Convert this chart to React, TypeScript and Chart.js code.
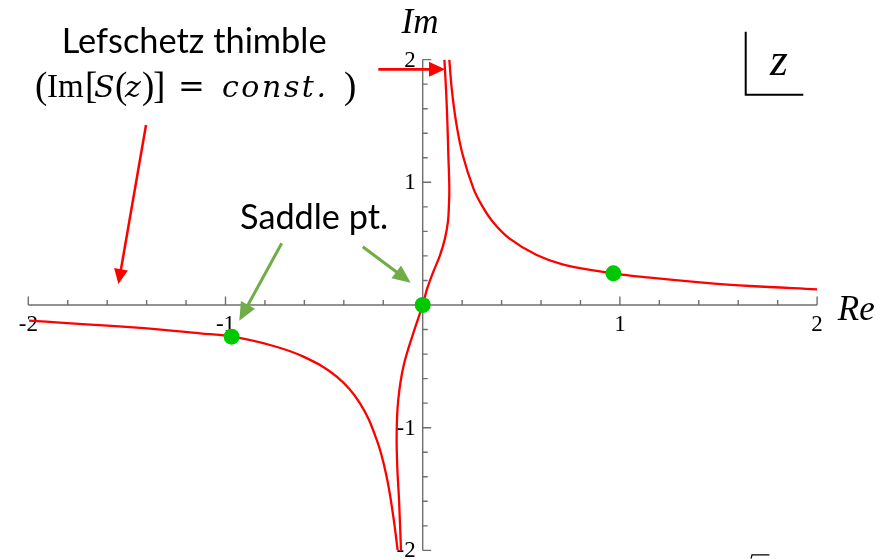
import React, { useEffect, useRef } from "react";
import { Chart, registerables } from "chart.js";

Chart.register(...registerables);

// Upper-right Lefschetz thimble (through the saddle near 0.97 + 0.26i)
const rightThimbleRe = [0.135, 0.147, 0.169, 0.203, 0.257, 0.299, 0.355, 0.439, 0.578, 0.713, 0.967, 1.153, 1.407, 1.66, 2.0];
const rightThimbleIm = [2.0, 1.766, 1.494, 1.222, 0.951, 0.815, 0.679, 0.543, 0.407, 0.33, 0.258, 0.223, 0.185, 0.155, 0.128];

// Central thimble through the saddle at the origin
const centralThimbleRe = [0.11, 0.118, 0.125, 0.13, 0.135, 0.133, 0.128, 0.113, 0.088, 0.054, 0.023, 0, -0.048, -0.098, -0.124, -0.132, -0.129, -0.12, -0.11];
const centralThimbleIm = [2.0, 1.766, 1.494, 1.222, 0.951, 0.815, 0.679, 0.543, 0.407, 0.271, 0.136, 0, -0.231, -0.503, -0.774, -1.046, -1.318, -1.589, -2.0];

// Lower-left thimble (through the saddle near -0.97 - 0.26i)
const leftThimbleRe = [-1.996, -1.468, -1.129, -0.969, -0.774, -0.605, -0.436, -0.318, -0.233, -0.183, -0.149, -0.127];
const leftThimbleIm = [-0.128, -0.182, -0.231, -0.258, -0.326, -0.421, -0.584, -0.801, -1.1, -1.399, -1.725, -2.0];

// Saddle points of S(z)
const saddleRe = [0, 0.967, -0.969];
const saddleIm = [0, 0.258, -0.258];

// Axes
const axisMin = -2;
const axisMax = 2;
const minorStep = 0.2;
const labelledTicks = [-2, -1, 1, 2];
const tickLabels = ["-2", "-1", "1", "2"];

const RED = "#ff0000";
const DOT_GREEN = "#00c800";
const ARROW_GREEN = "#70ad47";
const AXIS_GRAY = "#6f6f6f";

type Pt = { x: number; y: number };
const toPoints = (re: number[], im: number[]): Pt[] => re.map((v, i) => ({ x: v, y: im[i] }));

const axesPlugin = {
  id: "complexPlaneAxes",
  beforeDatasetsDraw(chart: any) {
    const { ctx } = chart;
    const sx = chart.scales.x;
    const sy = chart.scales.y;
    const x0 = sx.getPixelForValue(0);
    const y0 = sy.getPixelForValue(0);
    ctx.save();
    ctx.strokeStyle = AXIS_GRAY;
    ctx.lineWidth = 1.4;
    ctx.beginPath();
    ctx.moveTo(sx.getPixelForValue(axisMin), y0);
    ctx.lineTo(sx.getPixelForValue(axisMax), y0);
    ctx.moveTo(x0, sy.getPixelForValue(axisMax));
    ctx.lineTo(x0, sy.getPixelForValue(axisMin));
    const n = Math.round((axisMax - axisMin) / minorStep);
    for (let i = 0; i <= n; i++) {
      const v = axisMin + i * minorStep;
      if (Math.abs(v) < 1e-9) continue;
      const major = Math.abs(v - Math.round(v)) < 1e-9;
      const len = major ? 8.5 : 5;
      const px = sx.getPixelForValue(v);
      ctx.moveTo(px, y0);
      ctx.lineTo(px, y0 - len);
      const py = sy.getPixelForValue(v);
      ctx.moveTo(x0, py);
      ctx.lineTo(x0 + len, py);
    }
    ctx.stroke();

    ctx.fillStyle = "#000";
    ctx.font = "23px 'Liberation Serif'";
    labelledTicks.forEach((v, i) => {
      ctx.textAlign = "center";
      ctx.textBaseline = "alphabetic";
      ctx.fillText(tickLabels[i], sx.getPixelForValue(v), y0 + 26);
      ctx.textAlign = "right";
      ctx.textBaseline = "middle";
      ctx.fillText(tickLabels[i], x0 - 7, sy.getPixelForValue(v) + 1);
    });
    ctx.restore();
  },
};

function arrow(ctx: CanvasRenderingContext2D, a: number[], b: number[], color: string, width: number, headLen: number, headHalf: number) {
  const dx = b[0] - a[0];
  const dy = b[1] - a[1];
  const d = Math.hypot(dx, dy);
  const ux = dx / d;
  const uy = dy / d;
  const bx = b[0] - ux * headLen;
  const by = b[1] - uy * headLen;
  ctx.save();
  ctx.strokeStyle = color;
  ctx.fillStyle = color;
  ctx.lineWidth = width;
  ctx.beginPath();
  ctx.moveTo(a[0], a[1]);
  ctx.lineTo(bx + ux * 2, by + uy * 2);
  ctx.stroke();
  ctx.beginPath();
  ctx.moveTo(b[0], b[1]);
  ctx.lineTo(bx - uy * headHalf, by + ux * headHalf);
  ctx.lineTo(bx + uy * headHalf, by - ux * headHalf);
  ctx.closePath();
  ctx.fill();
  ctx.restore();
}

function fitFont(ctx: CanvasRenderingContext2D, text: string, family: string, width: number) {
  ctx.font = `100px ${family}`;
  const w = ctx.measureText(text).width;
  return `${(100 * width) / w}px ${family}`;
}

function spacedText(ctx: CanvasRenderingContext2D, text: string, left: number, base: number, width: number) {
  const chars = Array.from(text);
  const natural = chars.reduce((s, c) => s + ctx.measureText(c).width, 0);
  const gap = chars.length > 1 ? (width - natural) / (chars.length - 1) : 0;
  let x = left;
  ctx.textAlign = "left";
  chars.forEach((c) => {
    ctx.fillText(c, x, base);
    x += ctx.measureText(c).width + gap;
  });
}

const annotationPlugin = {
  id: "thimbleAnnotations",
  afterDatasetsDraw(chart: any) {
    const { ctx } = chart;
    const sx = chart.scales.x;
    const sy = chart.scales.y;
    const P = (re: number, im: number) => [sx.getPixelForValue(re), sy.getPixelForValue(im)];
    ctx.save();
    ctx.fillStyle = "#000";
    ctx.textBaseline = "alphabetic";

    // Title text
    const [tx, ty] = P(-1.159, 2.05);
    ctx.textAlign = "center";
    ctx.font = fitFont(ctx, "Lefschetz thimble", "Lato", 265);
    ctx.fillText("Lefschetz thimble", tx, ty);

    // (Im[S(z)] = const.)
    const [fx, fy] = P(-1.966, 1.698);
    const UP = "33px 'Liberation Serif'";
    const BR = "37px 'Liberation Serif'";
    const IT = "italic 30px 'DejaVu Serif'";
    const pieces: [string, number, string][] = [
      ["(", 0, BR],
      ["Im", 12, UP],
      ["[", 50, BR],
      ["S", 59, IT],
      ["(", 80, BR],
      ["z", 90, IT],
      [")", 107, BR],
      ["]", 118, BR],
      ["=", 143, "32px 'DejaVu Serif'"],
      [")", 309, BR],
    ];
    ctx.textAlign = "left";
    pieces.forEach(([t, off, font]) => {
      ctx.font = font;
      ctx.fillText(t, fx + off, fy + (font === BR ? 1 : 0));
    });
    ctx.font = IT;
    spacedText(ctx, "const.", fx + 187, fy, 104);

    // Saddle label
    const [slx, sly] = P(-0.551, 0.617);
    ctx.textAlign = "center";
    ctx.font = fitFont(ctx, "Saddle pt.", "Lato", 148);
    ctx.fillText("Saddle pt.", slx, sly);

    // Axis names
    ctx.font = "italic 35px 'Liberation Serif'";
    const [imx, imy] = P(-0.014, 2.214);
    ctx.textAlign = "center";
    ctx.fillText("Im", imx, imy);
    const [rex, rey] = P(2.105, -0.122);
    ctx.textAlign = "left";
    ctx.fillText("Re", rex, rey);

    // z-plane marker
    ctx.font = "italic 46px 'Liberation Serif'";
    const [zx, zy] = P(1.761, 1.874);
    ctx.fillText("z", zx, zy);
    const c1 = P(1.638, 2.227);
    const c2 = P(1.638, 1.714);
    const c3 = P(1.93, 1.714);
    ctx.strokeStyle = "#000";
    ctx.lineWidth = 2;
    ctx.beginPath();
    ctx.moveTo(c1[0], c1[1]);
    ctx.lineTo(c2[0], c2[1]);
    ctx.lineTo(c3[0], c3[1]);
    ctx.stroke();

    // radical fragment at the lower edge
    const r1 = P(1.665, -2.066);
    const r2 = P(1.67, -2.037);
    const r3 = P(1.758, -2.037);
    ctx.lineWidth = 1.3;
    ctx.beginPath();
    ctx.moveTo(r1[0], r1[1]);
    ctx.lineTo(r2[0], r2[1]);
    ctx.lineTo(r3[0], r3[1]);
    ctx.stroke();

    // Arrows
    arrow(ctx, P(-1.403, 1.467), P(-1.543, 0.171), RED, 2.5, 15, 7);
    arrow(ctx, P(-0.225, 1.921), P(0.113, 1.921), RED, 2.8, 16, 7.5);
    arrow(ctx, P(-0.715, 0.503), P(-0.93, -0.128), ARROW_GREEN, 3, 18, 8);
    arrow(ctx, P(-0.304, 0.475), P(-0.061, 0.182), ARROW_GREEN, 3, 18, 8);

    ctx.restore();
  },
};

export default function App() {
  const canvasRef = useRef<HTMLCanvasElement>(null);

  useEffect(() => {
    const canvas = canvasRef.current;
    if (!canvas) return;
    const curve = (label: string, re: number[], im: number[]) => ({
      label,
      data: toPoints(re, im),
      showLine: true,
      borderColor: RED,
      backgroundColor: RED,
      borderWidth: 2.3,
      pointRadius: 0,
      tension: 0.4,
      order: 1,
    });
    const chart = new Chart(canvas, {
      type: "scatter",
      data: {
        datasets: [
          {
            label: "Saddle points",
            data: toPoints(saddleRe, saddleIm),
            pointRadius: 8,
            pointBackgroundColor: DOT_GREEN,
            pointBorderColor: DOT_GREEN,
            pointBorderWidth: 0,
            showLine: false,
            order: 0,
          } as any,
          curve("Thimble (right)", rightThimbleRe, rightThimbleIm),
          curve("Thimble (center)", centralThimbleRe, centralThimbleIm),
          curve("Thimble (left)", leftThimbleRe, leftThimbleIm),
        ],
      },
      options: {
        responsive: false,
        animation: false,
        events: [],
        layout: { padding: { left: 28.3, right: 65.9, top: 59.6, bottom: 8.6 } },
        scales: {
          x: { type: "linear", min: axisMin, max: axisMax, display: false },
          y: { type: "linear", min: axisMin, max: axisMax, display: false },
        },
        plugins: { legend: { display: false }, tooltip: { enabled: false } },
      },
      plugins: [axesPlugin, annotationPlugin],
    });
    return () => chart.destroy();
  }, []);

  return (
    <div style={{ position: "fixed", left: 0, top: 0, width: 883, height: 559, background: "#fff" }}>
      <canvas ref={canvasRef} width={883} height={559} />
    </div>
  );
}
